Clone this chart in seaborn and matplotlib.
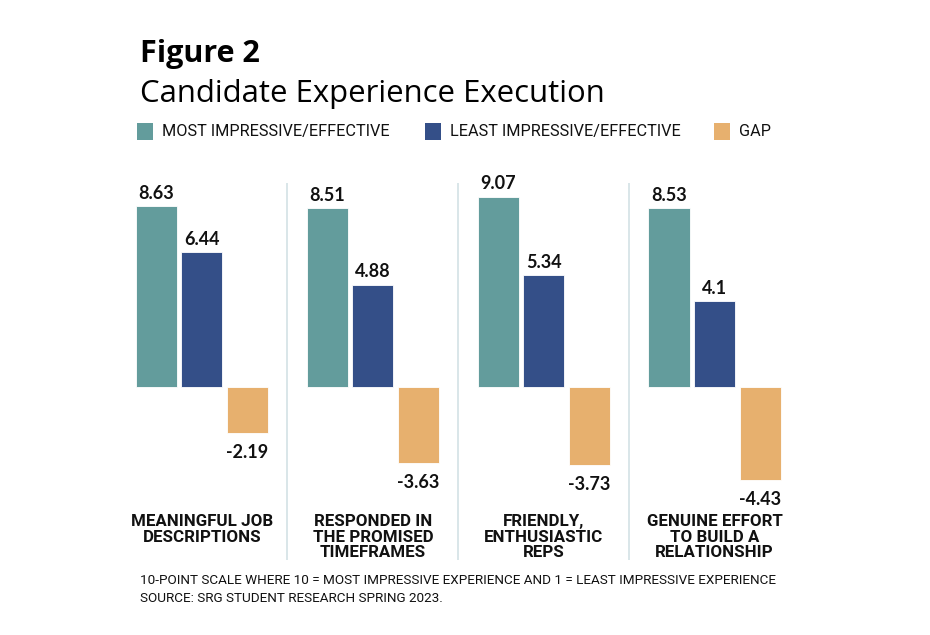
import matplotlib
matplotlib.use("Agg")
import matplotlib.pyplot as plt
from matplotlib.patches import Rectangle
import seaborn as sns
import pandas as pd

categories = ["MEANINGFUL JOB\nDESCRIPTIONS", "RESPONDED IN\nTHE PROMISED\nTIMEFRAMES",
              "FRIENDLY,\nENTHUSIASTIC\nREPS", "GENUINE EFFORT\nTO BUILD A\nRELATIONSHIP"]
series = ["MOST IMPRESSIVE/EFFECTIVE", "LEAST IMPRESSIVE/EFFECTIVE", "GAP"]
most = [8.63, 8.51, 9.07, 8.53]
least = [6.44, 4.88, 5.34, 4.1]
gap = [-2.19, -3.63, -3.73, -4.43]
colors = ["#639c9c", "#344f88", "#e7b06e"]

rows = []
for i, c in enumerate(categories):
    for s, vals in zip(series, [most, least, gap]):
        rows.append({"category": c, "series": s, "value": vals[i]})
df = pd.DataFrame(rows)

sns.set_theme(style="white")
plt.rcParams["font.family"] = ["Lato", "DejaVu Sans"]

W, H = 930, 635
fig = plt.figure(figsize=(9.3, 6.35), dpi=100)
ax = fig.add_axes([116.5 / W, 1 - 560 / H, (800 - 116.5) / W, (560 - 183) / H])

sns.barplot(data=df, x="category", y="value", hue="series", order=categories,
            hue_order=series, palette=colors, width=0.8, gap=0.1, ax=ax,
            legend=False, edgecolor="white", linewidth=0.6, saturation=1)

ax.set_xlim(-0.5, 3.5)
ax.set_ylim((387 - 560) / 21.0, (387 - 183) / 21.0)
for sp in ax.spines.values():
    sp.set_visible(False)
ax.set_xticks([])
ax.set_yticks([])
ax.set_xlabel("")
ax.set_ylabel("")

for cont, vals in zip(ax.containers, [most, least, gap]):
    pad = 3 if vals[0] > 0 else 8
    ax.bar_label(cont, labels=[f"{v:g}" for v in vals], padding=pad,
                 fontsize=13, fontweight="bold", color="#111111")

for x in [0.5, 1.5, 2.5]:
    ax.axvline(x, color="#d3e2e5", linewidth=1.2, ymin=0, ymax=1)

narrow = ["Roboto", "DejaVu Sans"]
for i, c in enumerate(categories):
    ax.text(i, (387 - 514) / 21.0, c, ha="center", va="top", fontsize=12.2,
            fontweight="bold", family=narrow, color="#111111", linespacing=1.05)

fig.text(140 / W, 1 - 62 / H, "Figure 2", fontsize=22, fontweight="bold",
         family=["Open Sans", "DejaVu Sans"], color="#000000", va="baseline")
fig.text(140 / W, 1 - 102 / H, "Candidate Experience Execution", fontsize=22.4,
         family=["Open Sans", "DejaVu Sans"], color="#000000", va="baseline")

leg_x = [137, 425, 714]
for lx, s, col in zip(leg_x, series, colors):
    fig.patches.append(Rectangle((lx / W, 1 - 140 / H), 16 / W, 17 / H,
                                 transform=fig.transFigure, facecolor=col,
                                 edgecolor="none"))
    fig.text((lx + 25) / W, 1 - 132 / H, s, fontsize=11.7, family=narrow,
             color="#111111", va="center")

fig.text(140 / W, 1 - 580 / H,
         "10-POINT SCALE WHERE 10 = MOST IMPRESSIVE EXPERIENCE AND 1 = LEAST IMPRESSIVE EXPERIENCE",
         fontsize=9.7, family=narrow, color="#111111", va="center")
fig.text(140 / W, 1 - 599 / H, "SOURCE: SRG STUDENT RESEARCH SPRING 2023.",
         fontsize=9.7, family=narrow, color="#111111", va="center")

fig.savefig("out.png", dpi=100, facecolor="white")
